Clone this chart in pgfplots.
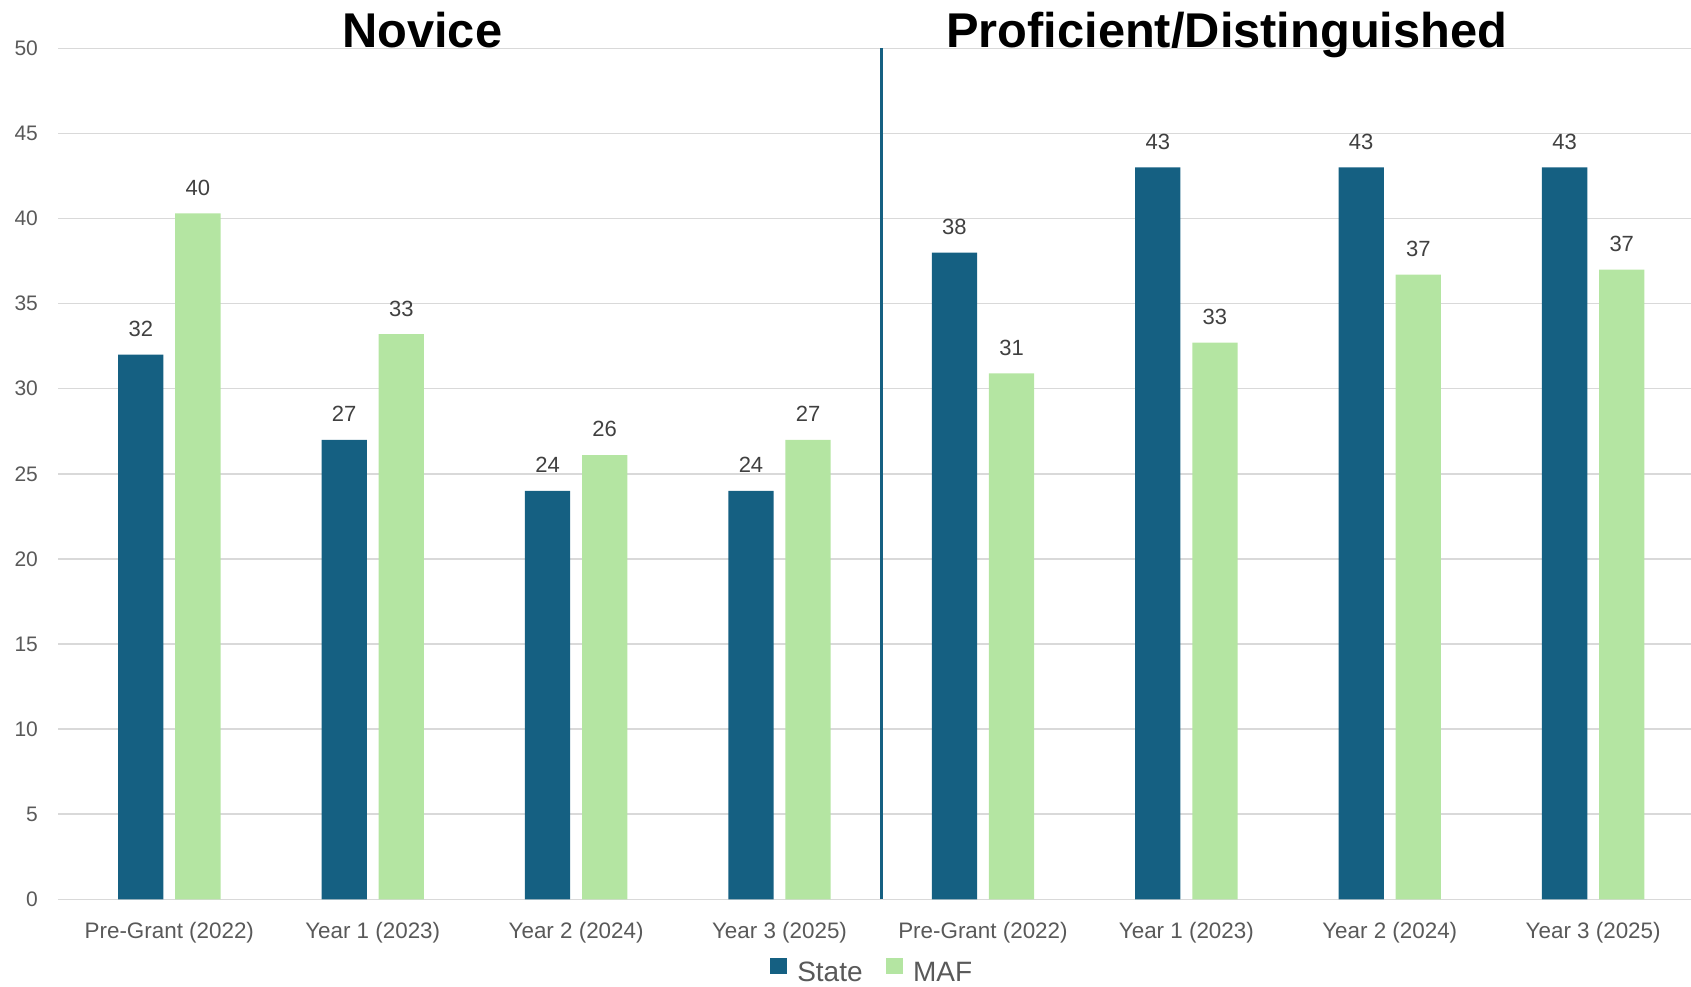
\documentclass[border=0pt]{standalone}
\usepackage{pgfplots}
\pgfplotsset{compat=1.18}
\usepackage{fontspec}
\setmainfont{Liberation Sans}

\definecolor{stateblue}{HTML}{156082}
\definecolor{mafgreen}{HTML}{B4E5A2}
\definecolor{gridgrey}{HTML}{D9D9D9}
\definecolor{ticktext}{HTML}{595959}
\definecolor{valtext}{HTML}{404040}

\begin{document}
\begin{tikzpicture}
\begin{axis}[
  at={(0pt,0pt)}, anchor=south west,
  scale only axis, width=816.5pt, height=425.5pt,
  xmin=-0.5472, xmax=7.481, ymin=0, ymax=50,
  ybar=5.9pt, bar width=22.65pt,
  /pgf/number format/assume math mode=true,
  xtick={0,...,7},
  xticklabels={Pre-Grant (2022), Year 1 (2023), Year 2 (2024), Year 3 (2025),
               Pre-Grant (2022), Year 1 (2023), Year 2 (2024), Year 3 (2025)},
  ytick={0,5,...,50},
  ymajorgrids, grid style={gridgrey, line width=0.75pt},
  extra x ticks={3.5}, extra x tick labels={},
  extra x tick style={grid=major, major grid style={stateblue, line width=1.5pt}},
  axis line style={draw=none}, major tick length=0pt,
  yticklabel style={font=\fontsize{10.5}{12}\selectfont, text=ticktext,
                    anchor=east, inner sep=0pt, xshift=-9.85pt},
  xticklabel style={font=\fontsize{11.2}{13}\selectfont, text=ticktext,
                    anchor=base, inner sep=0pt, yshift=-19.35pt},
  every node near coord/.append style={font=\fontsize{11}{13}\selectfont,
                    text=valtext, anchor=base, inner sep=0pt, yshift=9.1pt},
  clip=false,
  legend columns=2,
  legend style={at={(0.498,-0.0847)}, anchor=center, draw=none, fill=none,
                font=\fontsize{14}{16}\selectfont, text=ticktext,
                nodes={inner sep=0pt},
                /tikz/every even column/.append style={column sep=11.75pt}},
  legend image code/.code={\fill[#1] (0pt,-0.5pt) rectangle (8.5pt,7.5pt); \path (13.5pt,0pt);},
]
% State scores (Novice: 0-3, Proficient/Distinguished: 4-7)
\addplot[fill=stateblue, draw=none,
  nodes near coords={\pgfmathprintnumber[fixed,precision=0]{\pgfplotspointmeta}}]
  coordinates {(0,32) (1,27) (2,24) (3,24) (4,38) (5,43) (6,43) (7,43)};
% MAF scores
\addplot[fill=mafgreen, draw=none,
  nodes near coords={\pgfmathprintnumber[fixed,precision=0]{\pgfplotspointmeta}}]
  coordinates {(0,40.3) (1,33.2) (2,26.1) (3,27) (4,30.9) (5,32.7) (6,36.7) (7,37)};
\legend{State, MAF}

\node[anchor=base, font=\fontsize{24.4}{28}\selectfont\bfseries] at (axis cs:1.2434,50.05) {Novice};
\node[anchor=base, font=\fontsize{24.4}{28}\selectfont\bfseries] at (axis cs:5.1986,50.05) {Proficient/Distinguished};
\end{axis}
\pgfresetboundingbox
\useasboundingbox (-29pt,-43.35pt) rectangle (816.5pt,449.65pt);
\end{tikzpicture}
\end{document}
